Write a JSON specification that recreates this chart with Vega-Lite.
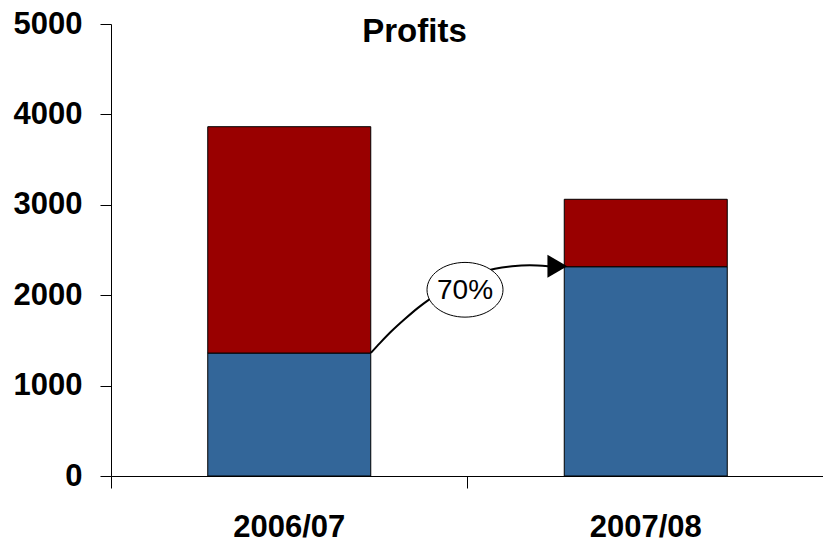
{
  "$schema": "https://vega.github.io/schema/vega-lite/v6.json",
  "width": 713,
  "height": 452,
  "autosize": {"type": "none"},
  "padding": {"left": 111, "top": 24, "right": 0, "bottom": 68},
  "background": "white",
  "config": {"view": {"stroke": null}, "font": "Liberation Sans"},
  "title": {
    "text": "Profits",
    "font": "Liberation Sans",
    "fontSize": 33,
    "fontWeight": "bold",
    "color": "black",
    "anchor": "middle",
    "frame": "group",
    "dx": -53,
    "dy": 30,
    "baseline": "alphabetic",
    "offset": -37
  },
  "datasets": {
    "bars": [
      {"year": "2006/07", "series": "Lower", "ord": 1, "value": 1360},
      {"year": "2006/07", "series": "Upper", "ord": 2, "value": 2504},
      {"year": "2007/08", "series": "Lower", "ord": 1, "value": 2315},
      {"year": "2007/08", "series": "Upper", "ord": 2, "value": 746}
    ],
    "arrow": [
      {"px": 0.729, "v": 1362},
      {"px": 0.755, "v": 1473},
      {"px": 0.788, "v": 1606},
      {"px": 0.825, "v": 1739},
      {"px": 0.861, "v": 1860},
      {"px": 0.895, "v": 1960},
      {"px": 0.979, "v": 2159},
      {"px": 1.035, "v": 2248},
      {"px": 1.077, "v": 2292},
      {"px": 1.125, "v": 2320},
      {"px": 1.175, "v": 2331},
      {"px": 1.226, "v": 2320}
    ],
    "head": [{"px": 1.252, "v": 2320}],
    "label": [{"px": 0.993, "v": 2060, "text": "70%"}]
  },
  "layer": [
    {
      "data": {"name": "bars"},
      "mark": {"type": "bar", "size": 163, "stroke": "black", "strokeWidth": 1},
      "encoding": {
        "x": {
          "field": "year",
          "type": "nominal",
          "scale": {"paddingInner": 0, "paddingOuter": 0},
          "axis": {
            "title": null,
            "labelAngle": 0,
            "bandPosition": 0,
            "tickSize": 12,
            "domainColor": "black",
            "tickColor": "black",
            "labelFont": "Liberation Sans",
            "labelFontSize": 31,
            "labelFontWeight": "bold",
            "labelColor": "black",
            "labelPadding": 24
          }
        },
        "y": {
          "field": "value",
          "type": "quantitative",
          "stack": "zero",
          "scale": {"domain": [0, 5000], "nice": false},
          "axis": {
            "title": null,
            "values": [0, 1000, 2000, 3000, 4000, 5000],
            "format": "d",
            "grid": false,
            "tickSize": 11,
            "domainColor": "black",
            "tickColor": "black",
            "labelFont": "Liberation Sans",
            "labelFontSize": 31,
            "labelFontWeight": "bold",
            "labelColor": "black",
            "labelPadding": 18
          }
        },
        "color": {
          "field": "series",
          "type": "nominal",
          "scale": {"domain": ["Lower", "Upper"], "range": ["#336699", "#990000"]},
          "legend": null
        },
        "order": {"field": "ord", "type": "quantitative"}
      }
    },
    {
      "data": {"name": "arrow"},
      "mark": {"type": "line", "color": "black", "strokeWidth": 2, "interpolate": "monotone"},
      "encoding": {
        "x": {"field": "px", "type": "quantitative", "scale": {"domain": [0, 2], "nice": false, "zero": false}, "axis": null},
        "y": {"field": "v", "type": "quantitative"}
      }
    },
    {
      "data": {"name": "head"},
      "mark": {"type": "point", "shape": "triangle-right", "filled": true, "color": "black", "size": 520, "opacity": 1},
      "encoding": {
        "x": {"field": "px", "type": "quantitative", "scale": {"domain": [0, 2], "nice": false, "zero": false}, "axis": null},
        "y": {"field": "v", "type": "quantitative"}
      }
    },
    {
      "data": {"name": "label"},
      "mark": {
        "type": "point",
        "shape": "M-1,0A1,0.72,0,1,1,1,0A1,0.72,0,1,1,-1,0Z",
        "size": 5776,
        "filled": false,
        "fill": "white",
        "fillOpacity": 1,
        "stroke": "black",
        "strokeWidth": 1,
        "opacity": 1
      },
      "encoding": {
        "x": {"field": "px", "type": "quantitative", "scale": {"domain": [0, 2], "nice": false, "zero": false}, "axis": null},
        "y": {"field": "v", "type": "quantitative"}
      }
    },
    {
      "data": {"name": "label"},
      "mark": {"type": "text", "font": "Liberation Sans", "fontSize": 28, "color": "black", "align": "center", "baseline": "middle", "dy": 1},
      "encoding": {
        "x": {"field": "px", "type": "quantitative", "scale": {"domain": [0, 2], "nice": false, "zero": false}, "axis": null},
        "y": {"field": "v", "type": "quantitative"},
        "text": {"field": "text"}
      }
    }
  ],
  "resolve": {"scale": {"x": "independent"}}
}
